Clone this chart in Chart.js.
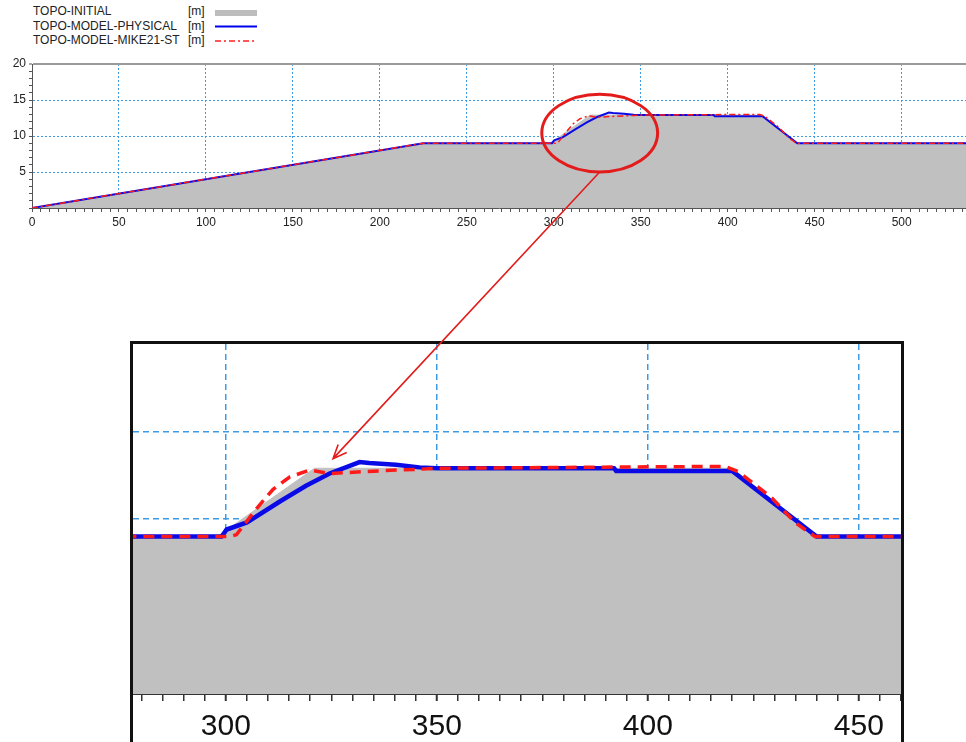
<!DOCTYPE html>
<html>
<head>
<meta charset="UTF-8">
<script src="https://cdn.jsdelivr.net/npm/chart.js@4.4.1/dist/chart.umd.min.js"></script>
<style>
    body { margin: 0; width: 966px; height: 742px; overflow: hidden; background: #fff; position: relative;
           font-family: "Liberation Sans", Arial, sans-serif; }
    #top { position: absolute; left: 0; top: 0; }
    #zoomFrame { position: absolute; left: 130px; top: 341px; width: 774px; height: 420px; overflow: hidden;
                 box-sizing: border-box; border: 3px solid #111; border-bottom: none; }
    #bottom { position: absolute; left: 0; top: 0; }
    #overlay { position: absolute; left: 0; top: 0; pointer-events: none; }
    .leg { position: absolute; font-size: 12px; color: #222; line-height: 14.5px; white-space: nowrap; }
</style>
</head>
<body>

<div class="leg" style="left:33px; top:4px;">TOPO-INITIAL<br>TOPO-MODEL-PHYSICAL<br>TOPO-MODEL-MIKE21-ST</div>
<div class="leg" style="left:188px; top:4px;">[m]<br>[m]<br>[m]</div>
<svg style="position:absolute; left:213px; top:0;" width="46" height="50">
    <line x1="2" y1="13" x2="44" y2="13" stroke="#bdbdbd" stroke-width="6"/>
    <line x1="2" y1="26.5" x2="44" y2="26.5" stroke="#0000ee" stroke-width="2"/>
    <line x1="2" y1="41" x2="44" y2="41" stroke="#ff2020" stroke-width="1.6" stroke-dasharray="6,3,2,3"/>
</svg>

<canvas id="top" width="966" height="240"></canvas>
<div id="zoomFrame"><canvas id="bottom" width="776" height="401"></canvas></div>
<canvas id="overlay" width="966" height="742"></canvas>

<script>
    // chainage [m] and bed level [m]
    var initX = [0, 225, 298, 321, 420, 440, 537];
    var initZ = [0, 9, 9, 12.9, 12.9, 9, 9];

    var physX = [0, 225, 299, 300.2, 305, 312.8, 319, 324.6, 331.7, 334, 340.3, 345.9, 350, 392, 392.5, 420, 440, 537];
    var physZ = [0, 9, 9, 9.4, 9.8, 11.0, 11.9, 12.6, 13.25, 13.2, 13.1, 12.95, 12.9, 12.9, 12.75, 12.75, 9, 9];

    var mikeX = [0, 225, 301, 302.5, 307.3, 311.2, 315.1, 319.9, 324.6, 332.5, 340.4, 346.6, 350, 413.5, 418.4, 421.5, 429.4, 434.9, 439.6, 537];
    var mikeZ = [0, 9, 9, 9.1, 10.6, 11.7, 12.4, 12.8, 12.6, 12.7, 12.8, 12.85, 12.9, 13.0, 13.0, 12.7, 11.2, 9.8, 9, 9];

    var xLabelStep = 50;          // labelled x ticks
    var yLabels = [5, 10, 15, 20]; // labelled y ticks (top chart)

    function pts(xs, zs) {
        return xs.map(function (x, i) { return {x: x, y: zs[i]}; });
    }

    Chart.defaults.font.family = '"Liberation Sans", Arial, sans-serif';
    var gridBlue = '#3d9be6';
    var none = 'rgba(0,0,0,0)';

    function datasets(big) {
        return [
            {label: 'TOPO-MODEL-MIKE21-ST', data: pts(mikeX, mikeZ), borderColor: '#ff1a1a',
             borderWidth: big ? 3.5 : 1.5, borderDash: big ? [11, 7] : [6, 3, 2, 3],
             pointRadius: 0, fill: false, tension: 0, order: 0},
            {label: 'TOPO-MODEL-PHYSICAL', data: pts(physX, physZ), borderColor: '#0a0ae6',
             borderWidth: big ? 4.5 : 2, pointRadius: 0, fill: false, tension: 0, order: 1},
            {label: 'TOPO-INITIAL', data: pts(initX, initZ), borderColor: '#c0c0c0',
             backgroundColor: '#c0c0c0', borderWidth: 1, pointRadius: 0, fill: 'origin', tension: 0, order: 2}
        ];
    }

    function tv(c) { return c.tick ? c.tick.value : null; }

    // overview chart
    var topChart = new Chart(document.getElementById('top'), {
        type: 'line',
        data: {datasets: datasets(false)},
        options: {
            responsive: false, animation: false, events: [],
            layout: {padding: {top: 64, left: 0, right: 0, bottom: 0}},
            plugins: {legend: {display: false}, tooltip: {enabled: false}},
            scales: {
                x: {
                    type: 'linear', min: 0, max: 537,
                    afterFit: function (s) { s.height = 32; },
                    ticks: {stepSize: 5, autoSkip: false, includeBounds: false, maxRotation: 0, padding: 3,
                            color: '#222', font: {size: 12},
                            callback: function (v) { return v % xLabelStep === 0 ? v : ''; }},
                    grid: {color: function (c) { var v = tv(c); return (v % xLabelStep === 0 && v > 0) ? gridBlue : none; },
                           lineWidth: 1, tickLength: 4, tickColor: '#555', tickWidth: 1},
                    border: {color: '#555', width: 1, dash: [2, 2]}
                },
                y: {
                    min: 0, max: 20,
                    afterFit: function (s) { s.width = 32; },
                    ticks: {stepSize: 1, autoSkip: false, includeBounds: false, padding: 3,
                            color: '#222', font: {size: 12},
                            callback: function (v) { return yLabels.indexOf(v) >= 0 ? v : ''; }},
                    grid: {color: function (c) { var v = tv(c); if (v === 20) return '#9a9a9a'; return (v % 5 === 0 && v > 0) ? gridBlue : none; },
                           lineWidth: function (c) { return tv(c) === 20 ? 2 : 1; },
                           tickLength: 3, tickColor: '#555', tickWidth: 1},
                    border: {color: '#555', width: 1, dash: function (c) { return tv(c) === 20 ? [] : [2, 2]; }}
                }
            }
        }
    });

    // zoomed chart
    var botChart = new Chart(document.getElementById('bottom'), {
        type: 'line',
        data: {datasets: datasets(true)},
        options: {
            responsive: false, animation: false, events: [],
            layout: {padding: 0},
            plugins: {legend: {display: false}, tooltip: {enabled: false}},
            scales: {
                x: {
                    type: 'linear', min: 278, max: 460,
                    afterFit: function (s) { s.height = 51; },
                    ticks: {stepSize: 5, autoSkip: false, includeBounds: false, maxRotation: 0, padding: 8,
                            color: '#111', font: {size: 30},
                            callback: function (v) { return v % xLabelStep === 0 ? v : ''; }},
                    grid: {color: function (c) { return tv(c) % xLabelStep === 0 ? gridBlue : none; },
                           lineWidth: 1.5, tickLength: 7, tickColor: '#333',
                           tickWidth: function (c) { return tv(c) % xLabelStep === 0 ? 2 : 1.5; }},
                    border: {color: '#333', width: 2, dash: [6, 4]}
                },
                y: {
                    min: 0, max: 20,
                    afterFit: function (s) { s.width = 0; },
                    ticks: {stepSize: 5, display: false},
                    grid: {color: function (c) { var v = tv(c); return (v > 0 && v < 20) ? gridBlue : none; },
                           lineWidth: 1.5, drawTicks: false},
                    border: {display: false, dash: [6, 4]}
                }
            }
        }
    });

    // red ellipse round the crest and arrow down to the zoom
    var ring = {x: 326.4, z: 10.4, rx: 33.3, rz: 5.4};
    var target = {x: 325.4, z: 13.45};
    var botLeft = 133, botTop = 344;

    var ov = document.getElementById('overlay').getContext('2d');
    var sx = topChart.scales.x, sy = topChart.scales.y;
    var cx = sx.getPixelForValue(ring.x), cy = sy.getPixelForValue(ring.z);
    var rx = sx.getPixelForValue(ring.x + ring.rx) - cx;
    var ry = cy - sy.getPixelForValue(ring.z + ring.rz);
    ov.strokeStyle = '#e31b1b';
    ov.lineWidth = 3;
    ov.beginPath();
    ov.ellipse(cx, cy, rx, ry, 0, 0, Math.PI * 2);
    ov.stroke();

    var x0 = cx, y0 = cy + ry;
    var x1 = botLeft + botChart.scales.x.getPixelForValue(target.x);
    var y1 = botTop + botChart.scales.y.getPixelForValue(target.z);
    ov.lineWidth = 1.6;
    ov.beginPath();
    ov.moveTo(x0, y0);
    ov.lineTo(x1, y1);
    var a = Math.atan2(y1 - y0, x1 - x0);
    ov.moveTo(x1 - 15 * Math.cos(a - 0.4), y1 - 15 * Math.sin(a - 0.4));
    ov.lineTo(x1, y1);
    ov.lineTo(x1 - 15 * Math.cos(a + 0.4), y1 - 15 * Math.sin(a + 0.4));
    ov.stroke();
</script>
</body>
</html>
